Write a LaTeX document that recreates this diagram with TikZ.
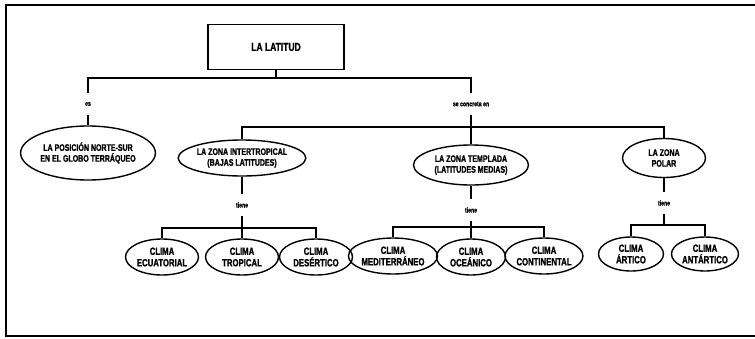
\documentclass[tikz,border=0pt]{standalone}
\usepackage{fontspec}
\setmainfont{Liberation Sans}[FakeStretch=0.74, BoldFeatures={FakeBold=1.2}]
\usetikzlibrary{positioning, shapes.geometric}

\tikzset{
  concepto/.style={ellipse, draw=black, line width=1.4pt, inner sep=0pt, align=center,
    font=\fontsize{9.5}{10.8}\selectfont\bfseries},
  clima/.style={concepto, minimum width=73pt, minimum height=36pt,
    font=\fontsize{10.5}{11.5}\selectfont\bfseries},
  enlace/.style={inner sep=1pt, minimum height=22pt, font=\fontsize{7}{8}\selectfont\bfseries},
  rama/.style={line width=1.2pt, black},
}

\begin{document}
\begin{tikzpicture}[x=1pt, y=-1pt]
  \useasboundingbox (0,0) rectangle (755,338);
  % marco
  \draw[line width=2.4pt] (755,5) -- (6,5) -- (6,336) -- (755,336);

  % nivel superior
  \node[draw=black, line width=1.6pt, minimum width=136pt, minimum height=45pt,
        font=\fontsize{11.5}{13}\selectfont\bfseries] (latitud) at (276,47) {LA LATITUD};
  \coordinate (j0) at (276,78);
  \node[enlace] (es) at (88,104) {es};
  \node[enlace] (concreta) at (471,104) {se concreta en};
  \node[concepto, minimum width=119pt, minimum height=54pt] (posicion) at (88,153)
        {LA POSICIÓN NORTE-SUR\\EN EL GLOBO TERRÁQUEO};

  % zonas
  \coordinate (j1) at (471,127);
  \node[concepto, minimum width=117pt, minimum height=36pt] (intertrop) at (242,158)
        {LA ZONA INTERTROPICAL\\(BAJAS LATITUDES)};
  \node[concepto, minimum width=115pt, minimum height=40pt] (templada) at (471,165)
        {LA ZONA TEMPLADA\\(LATITUDES MEDIAS)};
  \node[concepto, minimum width=83pt, minimum height=39pt] (polar) at (664,158)
        {LA ZONA\\POLAR};

  % climas
  \node[enlace] (tiene1) at (242,205) {tiene};
  \node[enlace] (tiene2) at (471,210) {tiene};
  \node[enlace] (tiene3) at (664,203) {tiene};
  \coordinate (j2) at (242,228);
  \coordinate (j3) at (471,227);
  \coordinate (j4) at (664,225);

  \node[clima] (ecuatorial) at (162,257) {CLIMA\\ECUATORIAL};
  \node[clima] (tropical) at (242,257) {CLIMA\\TROPICAL};
  \node[clima] (desertico) at (316,257) {CLIMA\\DESÉRTICO};
  \node[clima, minimum width=77pt] (mediterraneo) at (393,256) {CLIMA\\MEDITERRÁNEO};
  \node[clima, minimum width=69pt] (oceanico) at (471,257) {CLIMA\\OCEÁNICO};
  \node[clima, minimum width=70pt] (continental) at (544,256) {CLIMA\\CONTINENTAL};
  \node[clima, minimum width=65pt, minimum height=34pt] (artico) at (631,254) {CLIMA\\ÁRTICO};
  \node[clima, minimum width=67pt, minimum height=34pt] (antartico) at (705,254) {CLIMA\\ANTÁRTICO};

  % ramas
  \draw[rama] (latitud) -- (j0);
  \draw[rama] (es) |- (j0) -| (concreta);
  \draw[rama] (es) -- (posicion);
  \draw[rama] (concreta) -- (j1);
  \draw[rama] (intertrop) |- (j1) -| (polar);
  \draw[rama] (j1) -- (templada);

  \draw[rama] (intertrop) -- (tiene1);
  \draw[rama] (tiene1) -- (j2);
  \draw[rama] (ecuatorial) |- (j2) -| (desertico);
  \draw[rama] (j2) -- (tropical);

  \draw[rama] (templada) -- (tiene2);
  \draw[rama] (tiene2) -- (j3);
  \draw[rama] (mediterraneo) |- (j3) -| (continental);
  \draw[rama] (j3) -- (oceanico);

  \draw[rama] (polar) -- (tiene3);
  \draw[rama] (tiene3) -- (j4);
  \draw[rama] (artico) |- (j4) -| (antartico);
\end{tikzpicture}
\end{document}
